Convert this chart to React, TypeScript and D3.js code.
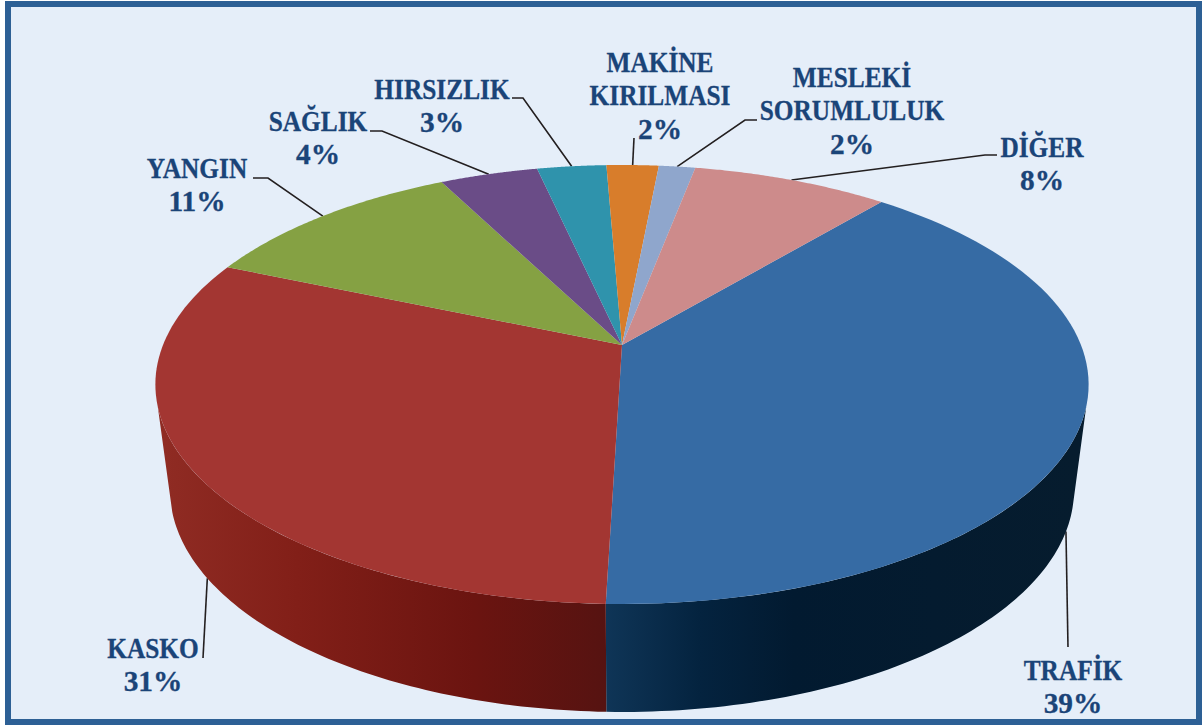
import React from 'react';
import * as d3 from 'd3';

const svgWidth = 1204;
const svgHeight = 726;

// share of each slice, clockwise from TRAFIK
const categories = ['TRAFİK', 'KASKO', 'YANGIN', 'SAĞLIK', 'HIRSIZLIK', 'MAKİNE KIRILMASI', 'MESLEKİ SORUMLULUK', 'DİĞER'];
const values = [39.35, 30.95, 11.05, 4.05, 2.85, 2.15, 1.5, 8.1];
const percentLabels = ['39%', '31%', '11%', '4%', '3%', '2%', '2%', '8%'];
const topColors = ['#366ba4', '#a33632', '#85a143', '#6a4c87', '#2f93ac', '#d87d2b', '#8fa6cc', '#cd8b8b'];

// label centre, first baseline and the leader elbow points, same order as categories
const labelX = [1073, 153, 197, 318, 442, 660, 852, 1042];
const labelY = [680, 658, 178, 131, 99, 72, 87, 157];
const leaderPoints: [number, number][][] = [
  [[1068, 647]],
  [[203, 658]],
  [[253, 178], [268, 178]],
  [[370, 131], [382, 131]],
  [[512, 98], [523, 98]],
  [[634, 138]],
  [[757, 120], [745, 120]],
  [[997, 155], [985, 155]],
];

const rad = (deg: number) => (deg * Math.PI) / 180;

// the pie is in perspective: a circle mapped so its centre sits above the ellipse centre
const centerX = 622;
const perspective = -0.18;
const topFace = { cy: 345, r: 459, a: 212.4 };
const bottomFace = { cy: 450, r: 444.6, a: 214.8 };

function project(theta: number, face: typeof topFace): [number, number] {
  const c = Math.sin(theta);
  const s = -Math.cos(theta);
  const w = 1 + perspective * s;
  return [centerX + (face.r * c) / w, face.cy + (face.a * s) / w];
}

function rim(a0: number, a1: number, face: typeof topFace) {
  const steps = 80;
  const angle = d3.scaleLinear().domain([0, steps]).range([a0, a1]);
  return d3.range(steps + 1).map((i) => project(angle(i), face));
}

const slices = d3
  .pie<number>()
  .sort(null)
  .startAngle(rad(40))
  .endAngle(rad(400))(values);

const linePath = d3.line();

// where the side wall stops being visible, for the top and the bottom rim
const topVisible = [rad(106), rad(254)];
const bottomVisible = [rad(104), rad(254)];

const redStops = [
  [0, '#8f2b23'],
  [0.3, '#821f18'],
  [0.7, '#6b1410'],
  [1, '#561311'],
];
const blueStops = [
  [0, '#0f3557'],
  [0.2, '#04233f'],
  [0.4, '#021a30'],
  [1, '#061c2e'],
];

export default function App() {
  return (
    <svg
      width={svgWidth}
      height={svgHeight}
      style={{ position: 'absolute', left: 0, top: 0, display: 'block' }}
    >
      <defs>
        <linearGradient id="sideRed" gradientUnits="userSpaceOnUse" x1={165} x2={606} y1={0} y2={0}>
          {redStops.map(([o, c]) => (
            <stop key={o} offset={o} stopColor={c as string} />
          ))}
        </linearGradient>
        <linearGradient id="sideBlue" gradientUnits="userSpaceOnUse" x1={606} x2={1075} y1={0} y2={0}>
          {blueStops.map(([o, c]) => (
            <stop key={o} offset={o} stopColor={c as string} />
          ))}
        </linearGradient>
      </defs>

      <rect x={8} y={4} width={1191} height={718} fill="#e5eef9" stroke="#2d6095" strokeWidth={6} />

      {/* leaders go under the pie so they end right on its edge */}
      {slices.map((d, i) => {
        const mid = (d.startAngle + d.endAngle) / 2;
        const onSide = i < 2;
        const anchor = project(mid, onSide ? bottomFace : topFace);
        return (
          <path
            key={i}
            d={linePath([...leaderPoints[i], anchor]) as string}
            fill="none"
            stroke="#231f20"
            strokeWidth={1.6}
          />
        );
      })}

      {/* side wall */}
      {slices.slice(0, 2).map((d, i) => {
        const upper = rim(Math.max(d.startAngle, topVisible[0]), Math.min(d.endAngle, topVisible[1]), topFace);
        const lower = rim(Math.max(d.startAngle, bottomVisible[0]), Math.min(d.endAngle, bottomVisible[1]), bottomFace);
        return (
          <path
            key={i}
            d={`${linePath([...upper, ...lower.reverse()])}Z`}
            fill={i === 0 ? 'url(#sideBlue)' : 'url(#sideRed)'}
          />
        );
      })}

      {/* top face */}
      {slices.map((d, i) => (
        <path
          key={i}
          d={`${linePath([project(0, { ...topFace, r: 0, a: 0 }), ...rim(d.startAngle, d.endAngle, topFace)])}Z`}
          fill={topColors[i]}
        />
      ))}

      {/* no Cambria here, so squeeze a bold serif to get its tall narrow letters */}
      {categories.map((name, i) => {
        const lines = name === 'MAKİNE KIRILMASI' || name === 'MESLEKİ SORUMLULUK' ? name.split(' ') : [name];
        return [...lines, percentLabels[i]].map((t, j) => (
          <text
            key={`${name}-${j}`}
            transform={`translate(${labelX[i]},${labelY[i] + j * 33.4}) scale(${j === lines.length ? 1.03 : 0.89},1)`}
            textAnchor="middle"
            fontFamily="'Liberation Serif', serif"
            fontWeight="bold"
            fontSize={28.5}
            fill="#1a4478"
            stroke="#1a4478"
            strokeWidth={0.3}
          >
            {t}
          </text>
        ));
      })}
    </svg>
  );
}
